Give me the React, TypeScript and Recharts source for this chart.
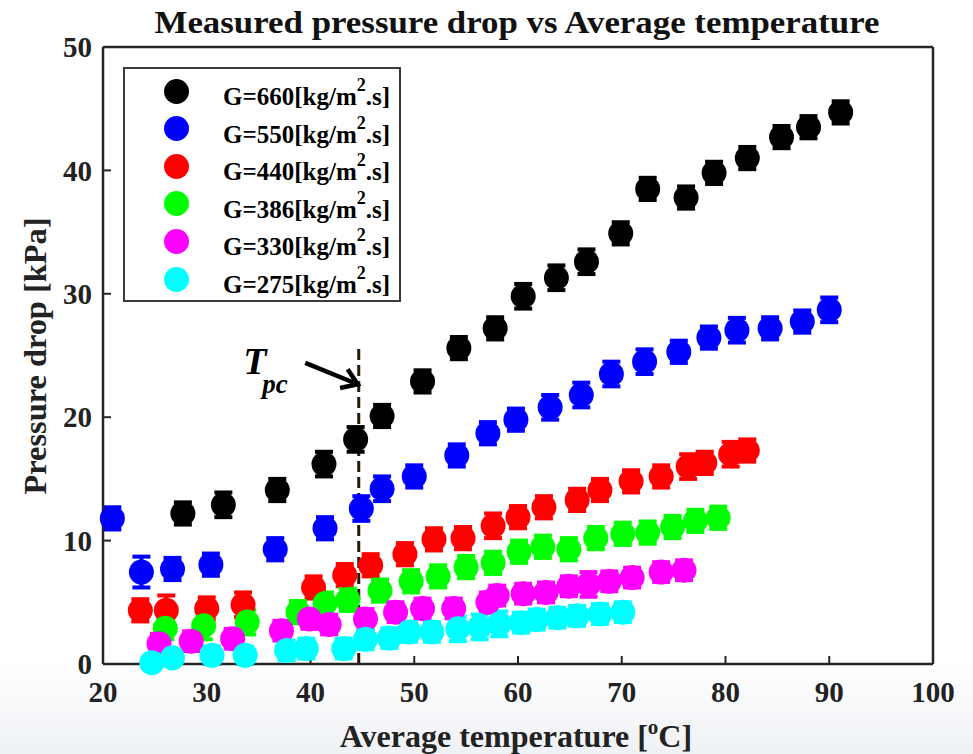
import React from "react";
import { ScatterChart, Scatter, XAxis, YAxis, ErrorBar, ReferenceLine, Legend } from "recharts";

const X_TICKS = [20, 30, 40, 50, 60, 70, 80, 90, 100];
const Y_TICKS = [0, 10, 20, 30, 40, 50];

const SERIES_NAMES = ["G=660", "G=550", "G=440", "G=386", "G=330", "G=275"];
const SERIES_COLORS = ["#000000", "#0000ff", "#ff0000", "#00ff00", "#ff00ff", "#00ffff"];

// average temperature [°C] / pressure drop [kPa] / error [kPa]
const T_660 = [27.7, 31.6, 36.8, 41.3, 44.35, 46.9, 50.8, 54.3, 57.8, 60.5, 63.7, 66.6, 69.9, 72.5, 76.2, 78.9, 82.1, 85.4, 88.0, 91.1];
const P_660 = [12.2, 12.9, 14.1, 16.2, 18.2, 20.1, 22.9, 25.6, 27.2, 29.8, 31.3, 32.6, 34.9, 38.5, 37.8, 39.8, 41.0, 42.7, 43.5, 44.7];
const E_660 = [0.9, 1.0, 0.9, 1.0, 1.0, 0.9, 0.9, 0.9, 0.9, 1.0, 1.0, 1.0, 0.9, 0.9, 0.9, 0.9, 0.9, 0.9, 0.9, 0.9];

const T_550 = [20.9, 23.7, 26.7, 30.4, 36.6, 41.4, 44.9, 46.9, 50.0, 54.1, 57.1, 59.8, 63.1, 66.1, 69.0, 72.2, 75.5, 78.4, 81.1, 84.3, 87.4, 90.0];
const P_550 = [11.8, 7.45, 7.7, 8.05, 9.3, 11.0, 12.6, 14.2, 15.2, 16.9, 18.7, 19.8, 20.8, 21.8, 23.5, 24.5, 25.3, 26.45, 27.05, 27.2, 27.75, 28.7];
const E_550 = [0.9, 1.25, 0.9, 0.9, 0.9, 0.9, 1.0, 1.0, 0.9, 0.9, 0.9, 0.9, 1.0, 1.0, 1.0, 1.0, 0.9, 0.9, 1.0, 0.9, 0.9, 1.0];

const T_440 = [23.6, 26.1, 30.0, 33.5, 40.3, 43.3, 45.8, 49.1, 51.9, 54.7, 57.6, 60.0, 62.5, 65.7, 67.9, 70.9, 73.8, 76.4, 78.0, 80.5, 82.1];
const P_440 = [4.35, 4.35, 4.5, 4.8, 6.2, 7.2, 8.0, 8.9, 10.1, 10.2, 11.2, 11.9, 12.7, 13.3, 14.1, 14.8, 15.2, 16.0, 16.3, 17.0, 17.3];
const E_440 = [0.9, 1.2, 0.9, 1.0, 0.9, 0.9, 0.9, 0.9, 0.9, 0.9, 1.0, 0.9, 0.9, 0.9, 0.9, 0.9, 0.9, 1.0, 0.9, 1.0, 0.9];

const T_386 = [26.0, 29.7, 33.9, 38.8, 41.4, 43.6, 46.7, 49.7, 52.3, 55.0, 57.6, 60.1, 62.4, 64.9, 67.5, 70.1, 72.5, 74.9, 77.1, 79.3];
const P_386 = [2.9, 3.1, 3.4, 4.2, 4.9, 5.2, 5.95, 6.7, 7.1, 7.85, 8.2, 9.1, 9.5, 9.3, 10.2, 10.55, 10.65, 11.1, 11.6, 11.85];
const E_386 = [0.9, 1.1, 1.0, 0.9, 0.9, 0.9, 0.9, 0.9, 0.9, 0.9, 0.9, 0.9, 0.9, 0.9, 0.9, 0.9, 0.9, 0.9, 0.9, 0.9];

const T_330 = [25.4, 28.5, 32.5, 37.2, 39.9, 41.8, 45.3, 48.2, 50.8, 53.8, 57.1, 58.0, 60.5, 62.7, 64.9, 66.8, 68.8, 71.0, 73.8, 76.0];
const P_330 = [1.65, 1.85, 2.05, 2.7, 3.65, 3.2, 3.65, 4.2, 4.5, 4.5, 5.0, 5.55, 5.7, 5.8, 6.3, 6.45, 6.7, 7.0, 7.45, 7.6];
const E_330 = [0.8, 0.8, 0.8, 0.8, 0.8, 0.8, 0.8, 0.8, 0.8, 0.8, 0.8, 0.8, 0.8, 0.8, 0.8, 1.0, 0.8, 0.8, 0.8, 0.8];

const T_275 = [24.7, 26.7, 30.5, 33.7, 37.7, 39.6, 43.2, 45.3, 47.6, 49.5, 51.7, 54.2, 56.3, 58.2, 60.3, 61.8, 63.8, 65.7, 67.9, 70.1];
const P_275 = [0.1, 0.5, 0.7, 0.7, 1.1, 1.25, 1.25, 2.0, 2.1, 2.6, 2.6, 2.85, 3.0, 3.25, 3.35, 3.6, 3.75, 3.9, 4.05, 4.2];
const E_275 = [0.1, 0.5, 0.7, 0.7, 0.8, 0.8, 0.8, 0.8, 0.8, 0.8, 0.8, 1.0, 1.0, 1.0, 0.8, 0.8, 0.8, 0.8, 0.8, 0.8];

const T_PC = 44.65;
const T_PC_TOP = 25.75;
const ARROW = [{ x: 39.5, y: 24.4 }, { x: 44.55, y: 22.67 }];

const FONT = '"Liberation Serif", "Times New Roman", serif';
const AXIS = "#262626";

const rows = (t: number[], p: number[], e: number[]) => t.map((x, i) => ({ t: x, p: p[i], err: e[i] }));

const SERIES = [
  rows(T_660, P_660, E_660),
  rows(T_550, P_550, E_550),
  rows(T_440, P_440, E_440),
  rows(T_386, P_386, E_386),
  rows(T_330, P_330, E_330),
  rows(T_275, P_275, E_275),
];

const dot = (color: string) => (props: any) => (
  <circle cx={props.cx} cy={props.cy} r={12.5} fill={color} />
);

function ArrowShape(props: any) {
  const { x1, y1, x2, y2 } = props;
  const a = Math.atan2(y2 - y1, x2 - x1);
  const L = 18;
  const phi = (34 * Math.PI) / 180;
  const p1 = [x2 - L * Math.cos(a - phi), y2 - L * Math.sin(a - phi)];
  const p2 = [x2 - L * Math.cos(a + phi), y2 - L * Math.sin(a + phi)];
  return (
    <g>
      <line x1={x1} y1={y1} x2={x2 - 2 * Math.cos(a)} y2={y2 - 2 * Math.sin(a)} stroke="#000" strokeWidth={4.5} />
      <polyline points={`${p1[0]},${p1[1]} ${x2},${y2} ${p2[0]},${p2[1]}`} fill="none" stroke="#000" strokeWidth={4.5} />
      <text x={x1 - 62} y={y1 + 11} fontFamily={FONT} fontStyle="italic" fontWeight="bold" fontSize={38} fill="#000">T</text>
      <text x={x1 - 43} y={y1 + 30} fontFamily={FONT} fontStyle="italic" fontWeight="bold" fontSize={27} fill="#000">pc</text>
    </g>
  );
}

function LegendBox() {
  return (
    <div
      style={{
        position: "relative",
        width: 278,
        height: 235,
        boxSizing: "border-box",
        border: "2px solid #3a3a3a",
        background: "#fff",
        fontFamily: FONT,
        fontWeight: "bold",
        color: "#000",
      }}
    >
      {SERIES_NAMES.map((name, i) => {
        const cy = 22 + i * 37.6;
        return (
          <React.Fragment key={name}>
            <div
              style={{
                position: "absolute",
                left: 53 - 12.5 - 2,
                top: cy - 12.5,
                width: 25,
                height: 25,
                borderRadius: "50%",
                background: SERIES_COLORS[i],
              }}
            />
            <div
              style={{
                position: "absolute",
                left: 98,
                top: cy - 7,
                fontSize: 25,
                lineHeight: "25px",
                whiteSpace: "nowrap",
              }}
            >
              {name}[kg/m<sup style={{ fontSize: 18, verticalAlign: "top", position: "relative", top: -11 }}>2</sup>.s]
            </div>
          </React.Fragment>
        );
      })}
    </div>
  );
}

export default function App() {
  const tickStyle = { fill: "#222", fontSize: 29, fontWeight: "bold", fontFamily: FONT };
  return (
    <div
      style={{
        position: "absolute",
        left: 0,
        top: 0,
        width: 973,
        height: 754,
        background: "linear-gradient(180deg, #ffffff 0%, #ffffff 88%, #eef1f5 100%)",
      }}
    >
      <ScatterChart width={973} height={754} margin={{ top: 46, right: 39, bottom: 30, left: 43 }}>
        <XAxis
          xAxisId="b"
          type="number"
          dataKey="t"
          domain={[20, 100]}
          ticks={X_TICKS}
          interval={0}
          height={60}
          tickSize={-8}
          tickMargin={25}
          tick={tickStyle}
          axisLine={{ stroke: AXIS, strokeWidth: 2.5 }}
          tickLine={{ stroke: AXIS, strokeWidth: 2 }}
        />
        <XAxis
          xAxisId="t"
          orientation="top"
          type="number"
          domain={[20, 100]}
          ticks={X_TICKS}
          interval={0}
          height={1}
          tickSize={-8}
          tickFormatter={() => ""}
          axisLine={{ stroke: AXIS, strokeWidth: 2.5 }}
          tickLine={{ stroke: AXIS, strokeWidth: 2 }}
        />
        <YAxis
          yAxisId="l"
          type="number"
          dataKey="p"
          domain={[0, 50]}
          ticks={Y_TICKS}
          interval={0}
          width={60}
          tickSize={-8}
          tickMargin={19}
          tick={tickStyle}
          axisLine={{ stroke: AXIS, strokeWidth: 2.5 }}
          tickLine={{ stroke: AXIS, strokeWidth: 2 }}
        />
        <YAxis
          yAxisId="r"
          orientation="right"
          type="number"
          domain={[0, 50]}
          ticks={Y_TICKS}
          interval={0}
          width={1}
          tickSize={-8}
          tickFormatter={() => ""}
          axisLine={{ stroke: AXIS, strokeWidth: 2.5 }}
          tickLine={{ stroke: AXIS, strokeWidth: 2 }}
        />
        <ReferenceLine
          xAxisId="b"
          yAxisId="l"
          segment={[{ x: T_PC, y: 0 }, { x: T_PC, y: T_PC_TOP }]}
          stroke="#24180a"
          strokeWidth={3}
          strokeDasharray="11 5"
        />
        {SERIES.map((data, i) => (
          <Scatter
            key={SERIES_NAMES[i]}
            name={SERIES_NAMES[i]}
            data={data}
            xAxisId="b"
            yAxisId="l"
            fill={SERIES_COLORS[i]}
            shape={dot(SERIES_COLORS[i])}
            isAnimationActive={false}
          >
            <ErrorBar dataKey="err" direction="y" width={9} strokeWidth={4} stroke={SERIES_COLORS[i]} isAnimationActive={false} />
          </Scatter>
        ))}
        <ReferenceLine xAxisId="b" yAxisId="l" segment={ARROW} shape={ArrowShape} />
        <Legend
          layout="vertical"
          align="center"
          verticalAlign="middle"
          wrapperStyle={{ left: 123, top: 67, width: 278, height: 235 }}
          content={() => <LegendBox />}
        />
      </ScatterChart>
      <svg width={973} height={754} style={{ position: "absolute", left: 0, top: 0, pointerEvents: "none" }}>
        <text
          x={517}
          y={33}
          textAnchor="middle"
          fontFamily={FONT}
          fontWeight="bold"
          fontSize={31}
          textLength={725}
          lengthAdjust="spacingAndGlyphs"
          fill="#111"
        >
          Measured pressure drop vs Average temperature
        </text>
        <text
          transform="translate(46,356) rotate(-90)"
          textAnchor="middle"
          fontFamily={FONT}
          fontWeight="bold"
          fontSize={32}
          textLength={277}
          lengthAdjust="spacingAndGlyphs"
          fill="#222"
        >
          Pressure drop [kPa]
        </text>
        <text x={516} y={747} textAnchor="middle" fontFamily={FONT} fontWeight="bold" fontSize={32} fill="#222">
          Average temperature [<tspan fontSize={21} dy={-13}>o</tspan>
          <tspan dy={13}>C]</tspan>
        </text>
      </svg>
    </div>
  );
}
